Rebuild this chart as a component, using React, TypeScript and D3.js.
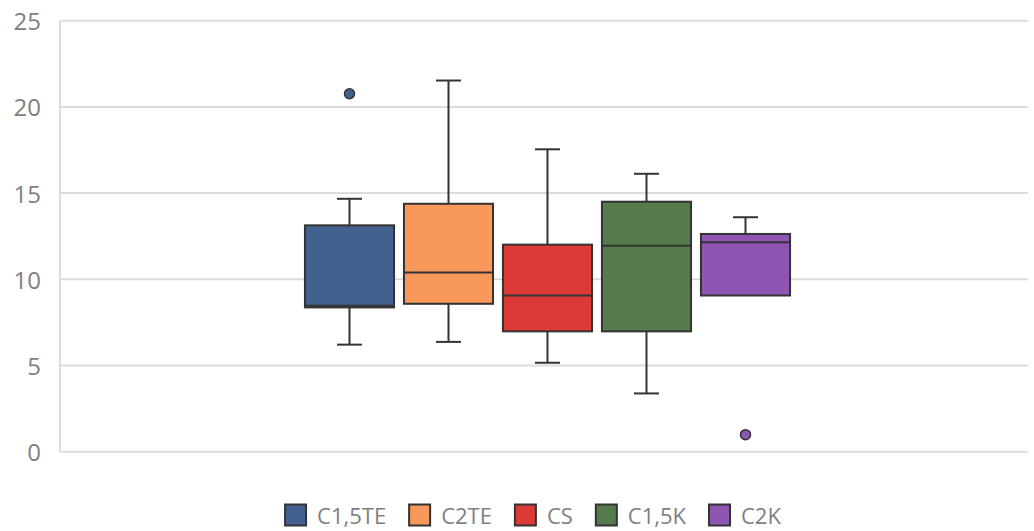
import React, { useEffect, useRef } from "react";
import * as d3 from "d3";

const series = ["C1,5TE", "C2TE", "CS", "C1,5K", "C2K"];
const colors = ["#43618e", "#f8985a", "#dc3a36", "#557a4b", "#8f55b2"];
const whiskerLow = [6.21, 6.37, 5.16, 3.38, 9.06];
const q1 = [8.37, 8.58, 6.98, 6.98, 9.06];
const median = [8.47, 10.39, 9.06, 11.94, 12.15];
const q3 = [13.13, 14.38, 12.01, 14.5, 12.63];
const whiskerHigh = [14.67, 21.53, 17.54, 16.12, 13.6];
const outliers: number[][] = [[20.76], [], [], [], [0.99]];
const yTicks = [0, 5, 10, 15, 20, 25];

const W = 1034;
const H = 531;
const FONT = "'Open Sans', sans-serif";

export default function App() {
  const ref = useRef<SVGSVGElement | null>(null);

  useEffect(() => {
    document.body.style.margin = "0";
    const svg = d3.select(ref.current);
    svg.selectAll("*").remove();

    const plotLeft = 60;
    const plotRight = 1028;
    const y = d3.scaleLinear().domain([0, 25]).range([451.7, 20.7]);
    const x = d3
      .scaleBand<string>()
      .domain(series)
      .range([300, 795])
      .paddingInner(0.1)
      .paddingOuter(0.05);

    svg.append("rect").attr("width", W).attr("height", H).attr("fill", "#ffffff");

    // gridlines
    const g = svg.append("g");
    g.selectAll("line.grid")
      .data(yTicks)
      .join("line")
      .attr("x1", plotLeft)
      .attr("x2", plotRight)
      .attr("y1", (d) => y(d))
      .attr("y2", (d) => y(d))
      .attr("stroke", "#dcdcdc")
      .attr("stroke-width", 2);
    g.append("line")
      .attr("x1", plotLeft)
      .attr("x2", plotLeft)
      .attr("y1", y(25))
      .attr("y2", y(0))
      .attr("stroke", "#dcdcdc")
      .attr("stroke-width", 2);

    g.selectAll("text.tick")
      .data(yTicks)
      .join("text")
      .attr("x", 41)
      .attr("y", (d) => y(d))
      .attr("text-anchor", "end")
      .attr("dominant-baseline", "central")
      .attr("font-family", FONT)
      .attr("font-size", 24)
      .attr("fill", "#808080")
      .text((d) => String(d));

    const bw = x.bandwidth();
    const capW = 25;
    series.forEach((s, i) => {
      const x0 = x(s)!;
      const cx = x0 + bw / 2;
      const bg = svg.append("g");
      const stroke = "#333333";
      // whiskers
      if (whiskerHigh[i] > q3[i]) {
        bg.append("line").attr("x1", cx).attr("x2", cx).attr("y1", y(q3[i])).attr("y2", y(whiskerHigh[i])).attr("stroke", stroke).attr("stroke-width", 2);
        bg.append("line").attr("x1", cx - capW / 2).attr("x2", cx + capW / 2).attr("y1", y(whiskerHigh[i])).attr("y2", y(whiskerHigh[i])).attr("stroke", stroke).attr("stroke-width", 2);
      }
      if (whiskerLow[i] < q1[i]) {
        bg.append("line").attr("x1", cx).attr("x2", cx).attr("y1", y(q1[i])).attr("y2", y(whiskerLow[i])).attr("stroke", stroke).attr("stroke-width", 2);
        bg.append("line").attr("x1", cx - capW / 2).attr("x2", cx + capW / 2).attr("y1", y(whiskerLow[i])).attr("y2", y(whiskerLow[i])).attr("stroke", stroke).attr("stroke-width", 2);
      }
      bg.append("rect")
        .attr("x", x0)
        .attr("y", y(q3[i]))
        .attr("width", bw)
        .attr("height", y(q1[i]) - y(q3[i]))
        .attr("fill", colors[i])
        .attr("stroke", stroke)
        .attr("stroke-width", 2);
      bg.append("line")
        .attr("x1", x0)
        .attr("x2", x0 + bw)
        .attr("y1", y(median[i]))
        .attr("y2", y(median[i]))
        .attr("stroke", stroke)
        .attr("stroke-width", 2);
      outliers[i].forEach((o) => {
        bg.append("circle")
          .attr("cx", cx)
          .attr("cy", y(o))
          .attr("r", 5)
          .attr("fill", colors[i])
          .attr("stroke", stroke)
          .attr("stroke-width", 1.5);
      });
    });

    // legend
    const lg = svg.append("g");
    const sq = 21;
    const gapText = 11;
    const gapItem = 23;
    const items = series.map((s, i) => {
      const t = lg.append("text")
        .attr("font-family", FONT)
        .attr("font-size", 22)
        .attr("fill", "#808080")
        .attr("dominant-baseline", "central")
        .text(s);
      const w = (t.node() as SVGTextElement).getComputedTextLength();
      return { t, w, i };
    });
    const total = items.reduce((a, it) => a + sq + gapText + it.w, 0) + gapItem * (items.length - 1);
    let cur = 533 - total / 2;
    const ly = 515;
    items.forEach((it) => {
      lg.append("rect")
        .attr("x", cur)
        .attr("y", ly - sq / 2)
        .attr("width", sq)
        .attr("height", sq)
        .attr("fill", colors[it.i])
        .attr("stroke", "#333333")
        .attr("stroke-width", 2);
      it.t.attr("x", cur + sq + gapText).attr("y", ly);
      cur += sq + gapText + it.w + gapItem;
    });
  }, []);

  return (
    <svg
      ref={ref}
      width={W}
      height={H}
      style={{ display: "block", position: "absolute", left: 0, top: 0 }}
    />
  );
}
